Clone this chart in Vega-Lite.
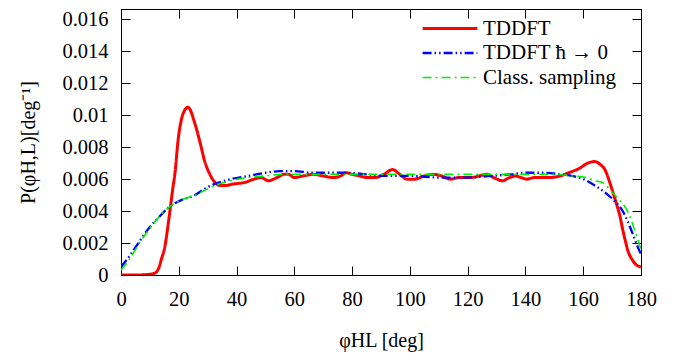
{
  "$schema": "https://vega.github.io/schema/vega-lite/v6.json",
  "width": 520,
  "height": 266,
  "autosize": {"type": "none"},
  "padding": {"left": 121, "top": 9, "right": 43, "bottom": 85},
  "background": "white",
  "config": {
    "font": "Liberation Serif",
    "view": {"stroke": "black", "strokeWidth": 1},
    "axis": {
      "grid": false,
      "domainColor": "black",
      "tickColor": "black",
      "labelColor": "black",
      "titleColor": "black",
      "labelFontSize": 20.5,
      "titleFontSize": 20,
      "titleFontWeight": "normal",
      "labelFont": "Liberation Serif",
      "titleFont": "Liberation Serif",
      "labelFlush": false,
      "labelOverlap": false,
      "tickSize": -9
    },
    "legend": {
      "labelFont": "Liberation Serif",
      "labelFontSize": 21,
      "labelColor": "black"
    }
  },
  "data": {
    "values": [
      {"s": "TDDFT", "x": 0, "y": 0},
      {"s": "TDDFT", "x": 5, "y": 0},
      {"s": "TDDFT", "x": 10, "y": 0.00005},
      {"s": "TDDFT", "x": 11.5, "y": 0.0001},
      {"s": "TDDFT", "x": 13, "y": 0.0004},
      {"s": "TDDFT", "x": 14, "y": 0.001},
      {"s": "TDDFT", "x": 15.2, "y": 0.0018},
      {"s": "TDDFT", "x": 16.2, "y": 0.003},
      {"s": "TDDFT", "x": 17, "y": 0.0041},
      {"s": "TDDFT", "x": 18, "y": 0.0055},
      {"s": "TDDFT", "x": 18.7, "y": 0.0064},
      {"s": "TDDFT", "x": 19.8, "y": 0.0085},
      {"s": "TDDFT", "x": 21, "y": 0.0098},
      {"s": "TDDFT", "x": 22, "y": 0.0103},
      {"s": "TDDFT", "x": 23.2, "y": 0.0105},
      {"s": "TDDFT", "x": 24.3, "y": 0.0102},
      {"s": "TDDFT", "x": 25.2, "y": 0.0097},
      {"s": "TDDFT", "x": 26.2, "y": 0.0091},
      {"s": "TDDFT", "x": 27.5, "y": 0.0082},
      {"s": "TDDFT", "x": 29, "y": 0.0071},
      {"s": "TDDFT", "x": 30.5, "y": 0.0064},
      {"s": "TDDFT", "x": 32.5, "y": 0.0058},
      {"s": "TDDFT", "x": 34.5, "y": 0.0056},
      {"s": "TDDFT", "x": 36, "y": 0.0056},
      {"s": "TDDFT", "x": 39, "y": 0.0057},
      {"s": "TDDFT", "x": 43, "y": 0.0058},
      {"s": "TDDFT", "x": 46, "y": 0.006},
      {"s": "TDDFT", "x": 48.5, "y": 0.0061},
      {"s": "TDDFT", "x": 51, "y": 0.0059},
      {"s": "TDDFT", "x": 54, "y": 0.0061},
      {"s": "TDDFT", "x": 56.5, "y": 0.0063},
      {"s": "TDDFT", "x": 58, "y": 0.0063},
      {"s": "TDDFT", "x": 60, "y": 0.0061},
      {"s": "TDDFT", "x": 63, "y": 0.0062},
      {"s": "TDDFT", "x": 66.5, "y": 0.0063},
      {"s": "TDDFT", "x": 70, "y": 0.0062},
      {"s": "TDDFT", "x": 73.5, "y": 0.0061},
      {"s": "TDDFT", "x": 76, "y": 0.0062},
      {"s": "TDDFT", "x": 78, "y": 0.0064},
      {"s": "TDDFT", "x": 80, "y": 0.0063},
      {"s": "TDDFT", "x": 82.7, "y": 0.0062},
      {"s": "TDDFT", "x": 85, "y": 0.0061},
      {"s": "TDDFT", "x": 88, "y": 0.0061},
      {"s": "TDDFT", "x": 91, "y": 0.0063},
      {"s": "TDDFT", "x": 94, "y": 0.0066},
      {"s": "TDDFT", "x": 96.5, "y": 0.0063},
      {"s": "TDDFT", "x": 99, "y": 0.006},
      {"s": "TDDFT", "x": 101.5, "y": 0.006},
      {"s": "TDDFT", "x": 105, "y": 0.0062},
      {"s": "TDDFT", "x": 108, "y": 0.0063},
      {"s": "TDDFT", "x": 111, "y": 0.0062},
      {"s": "TDDFT", "x": 114, "y": 0.006},
      {"s": "TDDFT", "x": 117, "y": 0.0061},
      {"s": "TDDFT", "x": 121, "y": 0.0061},
      {"s": "TDDFT", "x": 124, "y": 0.0062},
      {"s": "TDDFT", "x": 126.5, "y": 0.0063},
      {"s": "TDDFT", "x": 129, "y": 0.0061},
      {"s": "TDDFT", "x": 132, "y": 0.0059},
      {"s": "TDDFT", "x": 134.5, "y": 0.0061},
      {"s": "TDDFT", "x": 136.5, "y": 0.0062},
      {"s": "TDDFT", "x": 138.5, "y": 0.0061},
      {"s": "TDDFT", "x": 140.5, "y": 0.006},
      {"s": "TDDFT", "x": 143, "y": 0.0061},
      {"s": "TDDFT", "x": 148, "y": 0.0061},
      {"s": "TDDFT", "x": 152, "y": 0.0062},
      {"s": "TDDFT", "x": 155, "y": 0.0064},
      {"s": "TDDFT", "x": 158.9, "y": 0.0067},
      {"s": "TDDFT", "x": 161.5, "y": 0.007},
      {"s": "TDDFT", "x": 164, "y": 0.0071},
      {"s": "TDDFT", "x": 166, "y": 0.0069},
      {"s": "TDDFT", "x": 167.5, "y": 0.0066},
      {"s": "TDDFT", "x": 169, "y": 0.0059},
      {"s": "TDDFT", "x": 170.4, "y": 0.0051},
      {"s": "TDDFT", "x": 171.6, "y": 0.0044},
      {"s": "TDDFT", "x": 172.7, "y": 0.0037},
      {"s": "TDDFT", "x": 173.6, "y": 0.0029},
      {"s": "TDDFT", "x": 174.5, "y": 0.0022},
      {"s": "TDDFT", "x": 175.5, "y": 0.0015},
      {"s": "TDDFT", "x": 176.8, "y": 0.001},
      {"s": "TDDFT", "x": 178, "y": 0.0007},
      {"s": "TDDFT", "x": 180, "y": 0.0005},
      {"s": "TDDFT ħ → 0", "x": 0, "y": 0.0005},
      {"s": "TDDFT ħ → 0", "x": 3, "y": 0.0012},
      {"s": "TDDFT ħ → 0", "x": 6, "y": 0.002},
      {"s": "TDDFT ħ → 0", "x": 9.5, "y": 0.0029},
      {"s": "TDDFT ħ → 0", "x": 13, "y": 0.0036},
      {"s": "TDDFT ħ → 0", "x": 17, "y": 0.0043},
      {"s": "TDDFT ħ → 0", "x": 21, "y": 0.0047},
      {"s": "TDDFT ħ → 0", "x": 25.6, "y": 0.005},
      {"s": "TDDFT ħ → 0", "x": 29, "y": 0.0054},
      {"s": "TDDFT ħ → 0", "x": 32.5, "y": 0.0057},
      {"s": "TDDFT ħ → 0", "x": 38, "y": 0.006},
      {"s": "TDDFT ħ → 0", "x": 44, "y": 0.0062},
      {"s": "TDDFT ħ → 0", "x": 50, "y": 0.0064},
      {"s": "TDDFT ħ → 0", "x": 55, "y": 0.0065},
      {"s": "TDDFT ħ → 0", "x": 60, "y": 0.0065},
      {"s": "TDDFT ħ → 0", "x": 66, "y": 0.0064},
      {"s": "TDDFT ħ → 0", "x": 72, "y": 0.0064},
      {"s": "TDDFT ħ → 0", "x": 78, "y": 0.0064},
      {"s": "TDDFT ħ → 0", "x": 85, "y": 0.0063},
      {"s": "TDDFT ħ → 0", "x": 92, "y": 0.0062},
      {"s": "TDDFT ħ → 0", "x": 100, "y": 0.0062},
      {"s": "TDDFT ħ → 0", "x": 110, "y": 0.0061},
      {"s": "TDDFT ħ → 0", "x": 120, "y": 0.0061},
      {"s": "TDDFT ħ → 0", "x": 128, "y": 0.0062},
      {"s": "TDDFT ħ → 0", "x": 135, "y": 0.0063},
      {"s": "TDDFT ħ → 0", "x": 140, "y": 0.0064},
      {"s": "TDDFT ħ → 0", "x": 146, "y": 0.0064},
      {"s": "TDDFT ħ → 0", "x": 152, "y": 0.0063},
      {"s": "TDDFT ħ → 0", "x": 156, "y": 0.0062},
      {"s": "TDDFT ħ → 0", "x": 160, "y": 0.006},
      {"s": "TDDFT ħ → 0", "x": 164, "y": 0.0056},
      {"s": "TDDFT ħ → 0", "x": 168, "y": 0.0051},
      {"s": "TDDFT ħ → 0", "x": 171, "y": 0.0046},
      {"s": "TDDFT ħ → 0", "x": 174, "y": 0.0039},
      {"s": "TDDFT ħ → 0", "x": 176, "y": 0.0031},
      {"s": "TDDFT ħ → 0", "x": 177.5, "y": 0.0024},
      {"s": "TDDFT ħ → 0", "x": 179, "y": 0.0017},
      {"s": "TDDFT ħ → 0", "x": 180, "y": 0.0013},
      {"s": "Class. sampling", "x": 0, "y": 0.0003},
      {"s": "Class. sampling", "x": 3, "y": 0.001},
      {"s": "Class. sampling", "x": 6, "y": 0.0019},
      {"s": "Class. sampling", "x": 9.5, "y": 0.0028},
      {"s": "Class. sampling", "x": 13, "y": 0.0036},
      {"s": "Class. sampling", "x": 17, "y": 0.0043},
      {"s": "Class. sampling", "x": 21, "y": 0.0047},
      {"s": "Class. sampling", "x": 25.6, "y": 0.005},
      {"s": "Class. sampling", "x": 29, "y": 0.0053},
      {"s": "Class. sampling", "x": 32.5, "y": 0.0056},
      {"s": "Class. sampling", "x": 38, "y": 0.0059},
      {"s": "Class. sampling", "x": 44, "y": 0.0061},
      {"s": "Class. sampling", "x": 50, "y": 0.0062},
      {"s": "Class. sampling", "x": 56, "y": 0.0063},
      {"s": "Class. sampling", "x": 62, "y": 0.0063},
      {"s": "Class. sampling", "x": 70, "y": 0.0063},
      {"s": "Class. sampling", "x": 80, "y": 0.0063},
      {"s": "Class. sampling", "x": 90, "y": 0.0063},
      {"s": "Class. sampling", "x": 100, "y": 0.0063},
      {"s": "Class. sampling", "x": 110, "y": 0.0063},
      {"s": "Class. sampling", "x": 120, "y": 0.0063},
      {"s": "Class. sampling", "x": 130, "y": 0.0063},
      {"s": "Class. sampling", "x": 140, "y": 0.0063},
      {"s": "Class. sampling", "x": 150, "y": 0.0063},
      {"s": "Class. sampling", "x": 156, "y": 0.0062},
      {"s": "Class. sampling", "x": 161, "y": 0.0061},
      {"s": "Class. sampling", "x": 164, "y": 0.0059},
      {"s": "Class. sampling", "x": 166.4, "y": 0.0058},
      {"s": "Class. sampling", "x": 168.5, "y": 0.0055},
      {"s": "Class. sampling", "x": 170.4, "y": 0.0051},
      {"s": "Class. sampling", "x": 172.5, "y": 0.0047},
      {"s": "Class. sampling", "x": 175, "y": 0.0041},
      {"s": "Class. sampling", "x": 176.5, "y": 0.0035},
      {"s": "Class. sampling", "x": 178, "y": 0.0027},
      {"s": "Class. sampling", "x": 179.3, "y": 0.002},
      {"s": "Class. sampling", "x": 180, "y": 0.0016}
    ]
  },
  "layer": [
    {
      "mark": {"type": "line", "interpolate": "monotone", "clip": true},
      "encoding": {
        "x": {
          "field": "x", "type": "quantitative",
          "scale": {"domain": [0, 180], "nice": false},
          "axis": {"orient": "bottom", "values": [0, 20, 40, 60, 80, 100, 120, 140, 160, 180], "title": "φHL [deg]", "labelFont": "Liberation Serif", "titleFont": "Liberation Serif", "labelPadding": 23, "titlePadding": 21}
        },
        "y": {
          "field": "y", "type": "quantitative",
          "scale": {"domain": [0, 0.01665], "nice": false, "zero": true},
          "axis": {"orient": "left", "values": [0, 0.002, 0.004, 0.006, 0.008, 0.01, 0.012, 0.014, 0.016], "format": ".3~f", "title": "P(φH,L)[deg⁻¹]", "labelFont": "Liberation Serif", "titleFont": "Liberation Serif", "labelPadding": 22, "titlePadding": 23}
        },
        "color": {
          "field": "s", "type": "nominal",
          "scale": {"domain": ["TDDFT", "TDDFT ħ → 0", "Class. sampling"], "range": ["#ff0000", "#0000ff", "#00ee00"]},
          "legend": {"title": null, "orient": "none", "legendX": 300, "legendY": 9, "symbolType": "stroke", "symbolSize": 3000, "clipHeight": 21, "rowPadding": 2.5, "labelLimit": 300, "labelFont": "Liberation Serif", "labelFontSize": 21}
        },
        "strokeDash": {
          "field": "s", "type": "nominal",
          "scale": {"domain": ["TDDFT", "TDDFT ħ → 0", "Class. sampling"], "range": [[1, 0], [9, 3, 1.5, 3, 1.5, 3], [9, 4, 2, 4]]},
          "legend": {"title": null}
        },
        "strokeWidth": {
          "field": "s", "type": "nominal",
          "scale": {"domain": ["TDDFT", "TDDFT ħ → 0", "Class. sampling"], "range": [3, 1.6, 1.6]},
          "legend": {"title": null}
        }
      }
    },
    {
      "mark": {"type": "line", "strokeOpacity": 0},
      "encoding": {
        "x": {"field": "x", "type": "quantitative", "axis": {"orient": "top", "values": [0, 20, 40, 60, 80, 100, 120, 140, 160, 180], "labels": false, "title": null}},
        "y": {"field": "y", "type": "quantitative", "axis": {"orient": "right", "values": [0, 0.002, 0.004, 0.006, 0.008, 0.01, 0.012, 0.014, 0.016], "labels": false, "title": null}}
      }
    }
  ],
  "resolve": {"axis": {"x": "independent", "y": "independent"}}
}
